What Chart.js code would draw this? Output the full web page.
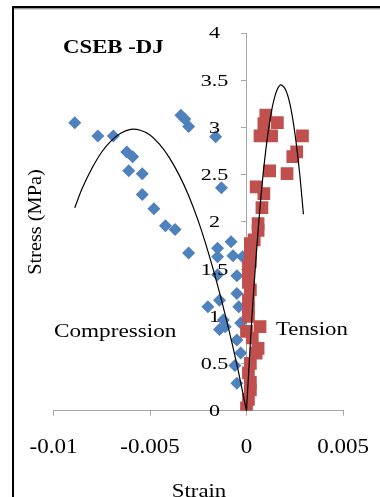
<!DOCTYPE html>
<html>
<head>
<meta charset="utf-8">
<script src="https://cdn.jsdelivr.net/npm/chart.js@4.4.1/dist/chart.umd.min.js"></script>
<style>
  html, body { margin: 0; padding: 0; background: #fff; }
  #wrap { width: 380px; height: 497px; position: relative; }
</style>
</head>
<body>
<div id="wrap"><canvas id="chart" width="380" height="497"></canvas></div>
<script>
// tick values on both axes
var xTicks = [-0.01, -0.005, 0, 0.005];
var yTicks = [0, 0.5, 1, 1.5, 2, 2.5, 3, 3.5, 4];

// compression test points (strain, stress MPa)
var compStrain = [-0.0089, -0.0077, -0.0069, -0.0062, -0.0059, -0.0061, -0.0054, -0.0054, -0.0048, -0.0042,
                  -0.0037, -0.0034, -0.0032, -0.0030, -0.0016, -0.0013, -0.0030, -0.0015, -0.0015, -0.0008,
                  -0.0007, -0.0002, -0.0015, -0.0005, -0.0005, -0.0020, -0.0014, -0.0004, -0.0012, -0.0014,
                  -0.0011, -0.0003, -0.0005, -0.0003, -0.0006, -0.0005];
var compStress = [3.05, 2.91, 2.91, 2.74, 2.69, 2.54, 2.51, 2.29, 2.14, 1.96,
                  1.92, 3.13, 3.09, 3.01, 2.90, 2.36, 1.67, 1.72, 1.63, 1.79,
                  1.64, 1.63, 1.44, 1.43, 1.24, 1.10, 1.17, 1.10, 0.96, 0.86,
                  0.89, 0.93, 0.75, 0.61, 0.48, 0.29];

// tension test points
var tensStrain = [0.0000, 0.0001, 0.0002, 0.0002, 0.0001, 0.0002, 0.0005, 0.0006, 0.0003, 0.0000,
                  0.0007, 0.0001, 0.0001, 0.0001, 0.0002, 0.0001, 0.0001, 0.0001, 0.0002, 0.0002,
                  0.0002, 0.0004, 0.0006, 0.0006, 0.0008, 0.0009, 0.0005, 0.0012, 0.0021, 0.0024,
                  0.0026, 0.0029, 0.0013, 0.0007, 0.0009, 0.0010, 0.0016];
var tensStress = [0.03, 0.12, 0.22, 0.30, 0.40, 0.50, 0.61, 0.66, 0.77, 0.84,
                  0.89, 1.00, 1.08, 1.17, 1.28, 1.36, 1.42, 1.53, 1.58, 1.67,
                  1.77, 1.81, 1.91, 1.98, 2.15, 2.30, 2.37, 2.54, 2.51, 2.69,
                  2.74, 2.91, 2.91, 2.91, 3.04, 3.13, 3.05];

// fitted curves
var compFitStrain = [-0.0089, -0.0085, -0.008, -0.0075, -0.007, -0.0065, -0.006, -0.0055, -0.005, -0.0045,
                     -0.004, -0.0035, -0.003, -0.0025, -0.002, -0.0015, -0.001, -0.0005, 0];
var compFitStress = [2.15, 2.36, 2.57, 2.74, 2.86, 2.94, 2.98, 2.97, 2.92, 2.82,
                     2.68, 2.50, 2.28, 2.01, 1.69, 1.33, 0.93, 0.49, 0];
var tensFitStrain = [0, 0.00025, 0.0005, 0.00075, 0.001, 0.00125, 0.0015, 0.00175, 0.002, 0.00225,
                     0.0025, 0.00275, 0.00295];
var tensFitStress = [0, 0.89, 1.64, 2.27, 2.76, 3.12, 3.35, 3.45, 3.41, 3.25,
                     2.95, 2.52, 2.08];

function pairs(xs, ys) {
  return xs.map(function (x, i) { return { x: x, y: ys[i] }; });
}

var SERIF = '"Liberation Serif", "Times New Roman", serif';

// text drawn a bit wider than the font, like the Word export
function wideText(ctx, text, x, y, sx, align, rot) {
  ctx.save();
  ctx.translate(x, y);
  if (rot) ctx.rotate(rot);
  ctx.scale(sx, 1);
  ctx.textAlign = align;
  ctx.fillText(text, 0, 0);
  ctx.restore();
}

var decor = {
  id: 'decor',
  beforeDraw: function (chart) {
    var ctx = chart.ctx;
    ctx.save();
    ctx.fillStyle = '#fff';
    ctx.fillRect(0, 0, chart.width, chart.height);
    // frame
    ctx.fillStyle = '#000';
    ctx.fillRect(12, 6, chart.width, 2.5);
    ctx.fillRect(12, 6, 2, chart.height);
    ctx.fillStyle = '#b0b0b0';
    ctx.fillRect(14, 8.5, chart.width, 1);
    ctx.restore();
  },
  afterDatasetsDraw: function (chart) {
    var ctx = chart.ctx;
    var xs = chart.scales.x, ys = chart.scales.y;
    var x0 = xs.getPixelForValue(0);
    ctx.save();
    ctx.fillStyle = '#000';
    ctx.textBaseline = 'alphabetic';

    ctx.font = '20px ' + SERIF;
    xTicks.forEach(function (v) {
      wideText(ctx, String(v), xs.getPixelForValue(v), 453, 1.15, 'center');
    });
    ctx.font = '17px ' + SERIF;
    ctx.textBaseline = 'middle';
    yTicks.forEach(function (v) {
      wideText(ctx, String(v), x0 - 32, ys.getPixelForValue(v) + 1, 1.3, 'center');
    });
    ctx.textBaseline = 'alphabetic';

    ctx.font = 'bold 19px ' + SERIF;
    wideText(ctx, 'CSEB -DJ', 63, 53, 1.2, 'left');
    ctx.font = '19px ' + SERIF;
    wideText(ctx, 'Compression', 54, 337, 1.22, 'left');
    wideText(ctx, 'Tension', 276, 335, 1.2, 'left');
    wideText(ctx, 'Strain', 199, 497, 1.2, 'center');
    wideText(ctx, 'Stress (MPa)', 41, 222, 1.07, 'center', -Math.PI / 2);
    ctx.restore();
  }
};

new Chart(document.getElementById('chart'), {
  type: 'scatter',
  data: {
    datasets: [
      {
        label: 'Compression fit',
        data: pairs(compFitStrain, compFitStress),
        showLine: true,
        borderColor: '#000',
        borderWidth: 1.2,
        pointRadius: 0,
        tension: 0.3,
        order: 0
      },
      {
        label: 'Tension fit',
        data: pairs(tensFitStrain, tensFitStress),
        showLine: true,
        borderColor: '#000',
        borderWidth: 1.2,
        pointRadius: 0,
        tension: 0.3,
        order: 0
      },
      {
        label: 'Tension',
        data: pairs(tensStrain, tensStress),
        pointStyle: 'rect',
        pointRadius: 9,
        pointBackgroundColor: '#C0504D',
        pointBorderWidth: 0,
        order: 1
      },
      {
        label: 'Compression',
        data: pairs(compStrain, compStress),
        pointStyle: 'rectRot',
        pointRadius: 6.5,
        pointBackgroundColor: '#4F81BD',
        pointBorderWidth: 0,
        order: 2
      }
    ]
  },
  options: {
    responsive: false,
    animation: false,
    events: [],
    layout: { padding: { left: 53.5, right: 37, top: 33, bottom: 0 } },
    plugins: { legend: { display: false }, tooltip: { enabled: false } },
    scales: {
      x: {
        type: 'linear',
        min: -0.01,
        max: 0.005,
        afterBuildTicks: function (s) { s.ticks = xTicks.map(function (v) { return { value: v }; }); },
        afterFit: function (s) { s.height = 86.3; },
        ticks: { display: false },
        grid: { drawOnChartArea: false, color: '#a6a6a6', tickLength: 5 },
        border: { color: '#a6a6a6', width: 1 }
      },
      y: {
        type: 'linear',
        position: { x: 0 },
        min: 0,
        max: 4,
        afterBuildTicks: function (s) { s.ticks = yTicks.map(function (v) { return { value: v }; }); },
        afterFit: function (s) { s.width = 0; },
        ticks: { display: false },
        grid: { drawOnChartArea: false, color: '#a6a6a6', tickLength: 5 },
        border: { color: '#a6a6a6', width: 1 }
      }
    }
  },
  plugins: [decor]
});
</script>
</body>
</html>
